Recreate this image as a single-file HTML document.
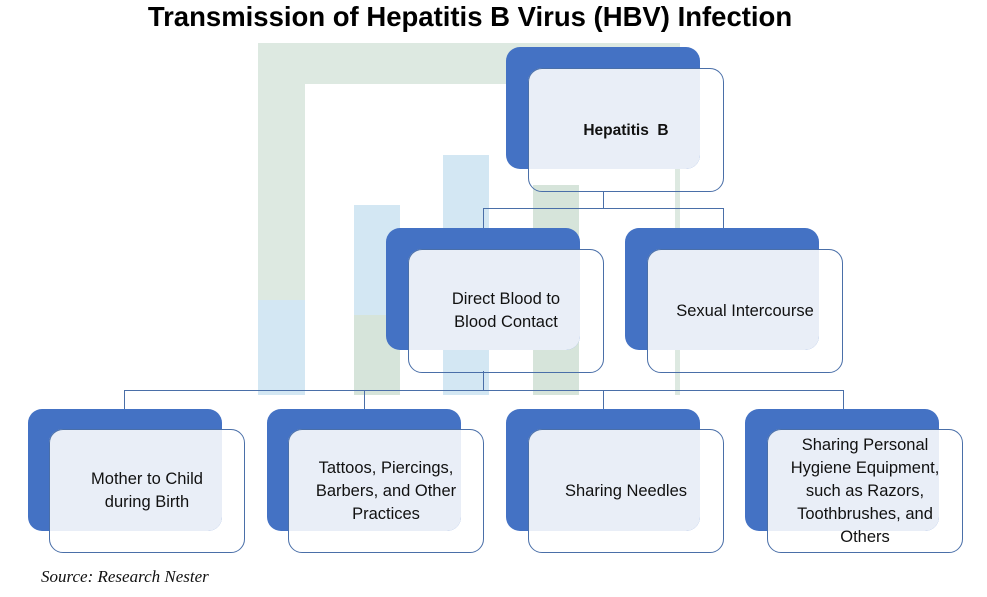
<!DOCTYPE html>
<html><head><style>
body{margin:0;width:987px;height:597px;background:#fff;position:relative;overflow:hidden;font-family:"Liberation Sans",sans-serif}
.a{position:absolute}
.b{position:absolute;background:#4472C4;border-radius:14px;width:194px;height:122px}
.o{position:absolute;background:#E9EEF7;border-radius:14px 0 14px 0;width:172px;height:101px}
.w{position:absolute;border:1px solid #4A6FA8;border-radius:14px;width:194px;height:122px;background:transparent;display:flex;align-items:center;justify-content:center;text-align:center;font-size:16.5px;line-height:23px;color:#111;overflow:hidden}
.l{position:absolute;background:#4A6FA8}
</style></head><body>
<div class="a" style="left:0;top:1px;width:940px;text-align:center;font-weight:bold;font-size:27.5px;color:#000">Transmission of Hepatitis B Virus (HBV) Infection</div>
<!-- watermark -->
<div class="a" style="left:258px;top:43px;width:422px;height:352px;background:#cfe0d4;opacity:.7"></div>
<div class="a" style="left:305px;top:84px;width:370px;height:311px;background:#fff"></div>
<div class="a" style="left:354px;top:205px;width:46px;height:190px;background:#d6e4da"></div>
<div class="a" style="left:354px;top:205px;width:46px;height:110px;background:#d3e7f3"></div>
<div class="a" style="left:443px;top:155px;width:46px;height:240px;background:#d3e7f3"></div>
<div class="a" style="left:533px;top:185px;width:46px;height:210px;background:#d6e4da"></div>
<div class="a" style="left:258px;top:300px;width:47px;height:95px;background:#d3e7f3"></div>
<!-- connectors -->
<div class="l" style="left:603px;top:191px;width:1px;height:17px"></div>
<div class="l" style="left:483px;top:208px;width:241px;height:1px"></div>
<div class="l" style="left:483px;top:208px;width:1px;height:20px"></div>
<div class="l" style="left:723px;top:208px;width:1px;height:20px"></div>
<div class="l" style="left:483px;top:371px;width:1px;height:19px"></div>
<div class="l" style="left:124px;top:390px;width:720px;height:1px"></div>
<div class="l" style="left:124px;top:390px;width:1px;height:19px"></div>
<div class="l" style="left:364px;top:390px;width:1px;height:19px"></div>
<div class="l" style="left:603px;top:390px;width:1px;height:19px"></div>
<div class="l" style="left:843px;top:390px;width:1px;height:19px"></div>
<!-- nodes -->
<div class="b" style="left:506px;top:47px"></div><div class="o" style="left:528px;top:68px"></div>
<div class="w" style="left:528px;top:68px;font-weight:bold;font-size:15.5px">Hepatitis&nbsp; B</div>
<div class="b" style="left:386px;top:228px"></div><div class="o" style="left:408px;top:249px"></div>
<div class="w" style="left:408px;top:249px">Direct Blood to<br>Blood Contact</div>
<div class="b" style="left:625px;top:228px"></div><div class="o" style="left:647px;top:249px"></div>
<div class="w" style="left:647px;top:249px">Sexual Intercourse</div>
<div class="b" style="left:28px;top:409px"></div><div class="o" style="left:49px;top:429px;width:173px;height:102px"></div>
<div class="w" style="left:49px;top:429px">Mother to Child<br>during Birth</div>
<div class="b" style="left:267px;top:409px"></div><div class="o" style="left:288px;top:429px;width:173px;height:102px"></div>
<div class="w" style="left:288px;top:429px">Tattoos, Piercings,<br>Barbers, and Other<br>Practices</div>
<div class="b" style="left:506px;top:409px"></div><div class="o" style="left:528px;top:429px;width:172px;height:102px"></div>
<div class="w" style="left:528px;top:429px">Sharing Needles</div>
<div class="b" style="left:745px;top:409px"></div><div class="o" style="left:767px;top:429px;width:172px;height:102px"></div>
<div class="w" style="left:767px;top:429px">Sharing Personal<br>Hygiene Equipment,<br>such as Razors,<br>Toothbrushes, and<br>Others</div>
<div class="a" style="left:41px;top:567px;font-family:'Liberation Serif',serif;font-style:italic;font-size:17px;color:#111">Source: Research Nester</div>
</body></html>
